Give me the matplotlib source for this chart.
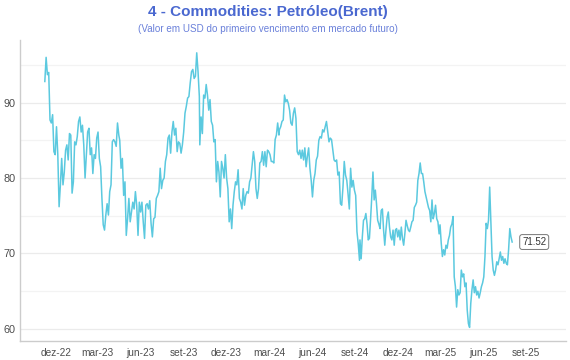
import numpy as np
import pandas as pd
import matplotlib
matplotlib.use("Agg")
import matplotlib.pyplot as plt
import matplotlib.dates as mdates

plt.rcParams['font.family'] = ['Liberation Sans', 'DejaVu Sans']

# Brent front-month, USD - in six stretches
seg1_start, seg1_end = '2022-11-08', '2023-04-15'
seg1 = [92.8, 96.0, 93.7, 94.0, 87.7, 87.3, 88.4, 83.5, 83.1, 86.8, 83.1, 76.2, 79.1, 82.6,
        79.1, 80.8, 83.7, 84.4, 82.4, 85.9, 85.7, 78.0, 79.5, 84.8, 84.4, 85.5, 87.5, 88.1,
        86.1, 87.0, 84.4, 80.0, 83.1, 86.1, 86.6, 83.1, 84.0, 80.6, 83.1, 82.6, 85.3, 86.1,
        82.6, 81.5, 77.3, 73.8, 73.1, 75.1, 76.6, 75.1, 78.2, 79.1, 84.8, 85.1, 84.8, 84.2,
        87.3, 85.7]

seg2_start, seg2_end = '2023-04-17', '2023-10-04'
seg2 = [85.0, 81.3, 82.6, 77.7, 79.5, 72.4, 74.6, 77.3, 74.2, 75.5, 76.8, 75.9, 78.2, 76.4,
        72.4, 76.8, 75.5, 76.8, 74.2, 72.0, 76.4, 76.6, 75.9, 77.0, 74.0, 72.2, 74.6, 74.8,
        77.3, 77.7, 78.2, 81.3, 78.6, 79.7, 80.0, 82.2, 83.1, 85.3, 85.7, 83.3, 86.1, 87.5,
        85.7, 86.6, 83.5, 84.8, 84.6, 83.3, 84.4, 86.1, 88.6, 89.5, 90.6, 90.8, 92.6, 94.1,
        94.4, 93.2, 93.5, 96.6, 94.1, 90.8]

seg3_start, seg3_end = '2023-10-05', '2024-03-22'
seg3 = [84.4, 88.1, 85.9, 91.0, 90.6, 92.4, 91.0, 89.0, 90.4, 87.5, 87.0, 84.8, 85.1, 79.5,
        82.2, 80.8, 77.5, 82.2, 81.3, 80.0, 83.1, 80.0, 78.6, 74.2, 75.9, 73.3, 76.4, 78.2,
        79.5, 79.1, 81.1, 77.3, 76.8, 75.9, 78.6, 76.4, 77.7, 78.2, 78.0, 79.5, 80.0, 81.7,
        83.5, 82.2, 78.6, 77.3, 78.6, 82.0, 82.2, 83.5, 81.7, 83.5, 81.5, 83.7, 83.5, 83.1,
        82.2, 82.2, 82.0, 85.1, 85.7, 87.3, 85.7]

seg4_start, seg4_end = '2024-03-23', '2024-09-10'
seg4 = [86.4, 86.8, 87.5, 87.7, 91.0, 90.1, 90.4, 89.9, 89.0, 87.3, 87.0, 88.6, 89.3, 87.9,
        83.5, 83.1, 83.7, 82.6, 83.7, 82.4, 84.0, 81.5, 82.9, 84.0, 81.3, 79.7, 77.5, 79.7,
        80.6, 82.4, 82.9, 85.0, 85.5, 85.3, 86.4, 86.1, 86.8, 87.5, 86.1, 84.8, 85.3, 85.1,
        83.7, 82.4, 82.2, 82.4, 80.4, 80.8, 76.6, 76.4, 78.8, 82.2, 80.4, 79.7, 77.9, 75.9,
        81.3, 78.8, 79.7, 78.4, 77.7, 72.9, 71.3, 69.1]

seg5_start, seg5_end = '2024-09-11', '2025-02-27'
seg5 = [71.8, 69.3, 72.2, 74.4, 74.6, 75.3, 73.9, 71.8, 72.0, 74.6, 77.5, 80.8, 77.1, 78.4,
        76.6, 74.4, 73.9, 73.3, 75.7, 75.9, 73.1, 71.1, 73.1, 74.8, 75.5, 73.5, 72.2, 71.8,
        73.1, 71.1, 73.1, 73.3, 72.2, 73.1, 71.8, 73.5, 72.0, 71.1, 72.6, 74.4, 73.7, 73.1,
        72.9, 73.5, 74.2, 74.4, 76.1, 76.4, 76.8, 79.7, 80.6, 82.0, 80.6, 80.6, 79.5, 78.2,
        77.5, 76.8, 76.1, 75.7, 74.2, 77.1, 74.6, 75.3, 76.4, 74.6, 74.2, 72.6]

seg6_start, seg6_end = '2025-03-01', '2025-08-02'
seg6 = [73.8, 71.4, 69.6, 70.5, 69.8, 71.1, 70.7, 71.8, 72.4, 73.5, 73.9, 74.9, 66.9, 65.6,
        62.9, 65.2, 64.5, 64.8, 67.8, 66.9, 67.3, 65.6, 66.1, 62.5, 60.7, 60.2, 63.4, 65.2,
        66.5, 64.8, 65.6, 64.5, 65.0, 64.1, 64.8, 65.6, 66.1, 66.9, 69.6, 74.0, 73.3, 74.4,
        78.8, 74.4, 69.6, 67.8, 67.1, 67.8, 68.9, 68.5, 69.3, 70.2, 69.1, 69.6, 68.7, 69.3,
        68.7, 68.5, 70.5, 73.3, 72.2, 71.52]

tick_dates = ['2022-12-01', '2023-03-01', '2023-06-01', '2023-09-01', '2023-12-01',
              '2024-03-01', '2024-06-01', '2024-09-01', '2024-12-01', '2025-03-01',
              '2025-06-01', '2025-09-01']
tick_labels = ['dez-22', 'mar-23', 'jun-23', 'set-23', 'dez-23', 'mar-24', 'jun-24',
               'set-24', 'dez-24', 'mar-25', 'jun-25', 'set-25']

segments = [(seg1_start, seg1_end, seg1), (seg2_start, seg2_end, seg2),
            (seg3_start, seg3_end, seg3), (seg4_start, seg4_end, seg4),
            (seg5_start, seg5_end, seg5), (seg6_start, seg6_end, seg6)]
parts = []
for s, e, vals in segments:
    idx = pd.date_range(s, e, periods=len(vals))
    parts.append(pd.Series(vals, index=idx))
brent = pd.concat(parts)

fig = plt.figure(figsize=(5.7, 3.6), dpi=100)
ax = fig.add_axes([20 / 570, 19 / 360, 546 / 570, 301 / 360])

ax.plot(brent.index, brent.values, color='#5bc9df', lw=1.1)

ax.set_xlim(pd.Timestamp('2022-09-16'), pd.Timestamp('2025-11-25'))
ax.set_ylim(58.4, 98.3)

ax.set_yticks([60, 70, 80, 90])
ax.set_yticks([65, 75, 85, 95], minor=True)
ax.set_xticks(pd.to_datetime(tick_dates))
ax.set_xticklabels(tick_labels)
ax.grid(True, which='major', axis='y', color='#ebebeb', lw=0.9)
ax.grid(True, which='minor', axis='y', color='#f3f3f3', lw=0.9)
ax.set_axisbelow(True)

ax.tick_params(axis='both', which='both', length=0, colors='#4d4d4d')
ax.tick_params(axis='x', pad=5, labelsize=7.3)
ax.tick_params(axis='y', pad=3, labelsize=7.8)
for side in ['top', 'right']:
    ax.spines[side].set_visible(False)
for side in ['left', 'bottom']:
    ax.spines[side].set_color('#cccccc')
    ax.spines[side].set_linewidth(1.0)

last_date = brent.index[-1]
last_val = brent.values[-1]
ax.annotate(f'{last_val:.2f}', xy=(last_date, last_val), xytext=(10, 0),
            textcoords='offset pixels', ha='left', va='center', fontsize=7,
            color='#333333',
            bbox=dict(boxstyle='round,pad=0.25', fc='white', ec='#777777', lw=0.7))

fig.text(268 / 570, 1 - 12 / 360, '4 - Commodities: Petróleo(Brent)', ha='center',
         va='center', fontsize=11, fontweight='bold', color='#4a68d0')
fig.text(268 / 570, 1 - 29 / 360, '(Valor em USD do primeiro vencimento em mercado futuro)',
         ha='center', va='center', fontsize=7.1, color='#6a80da')

fig.savefig('out.png', dpi=100)
